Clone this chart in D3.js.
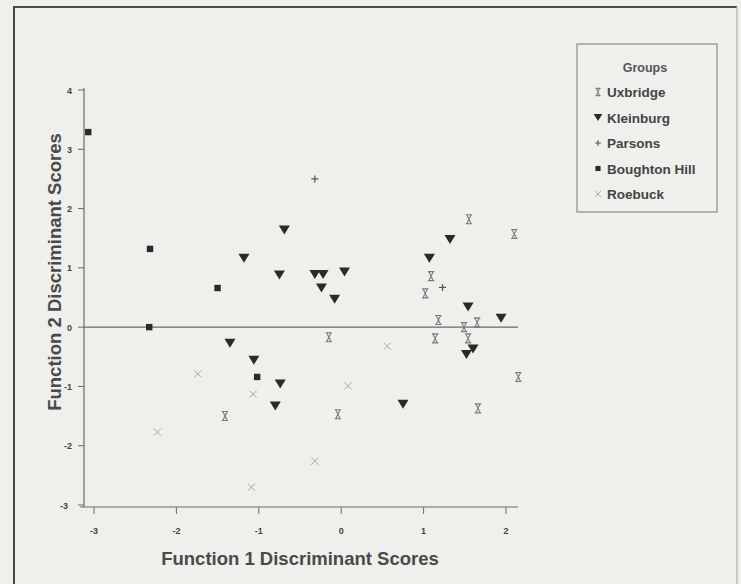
<!DOCTYPE html>
<html><head><meta charset="utf-8">
<script src="https://cdn.jsdelivr.net/npm/d3@7"></script>
<style>
html,body{margin:0;padding:0;background:#efefec;}
svg{display:block;font-family:"Liberation Sans",Arial,sans-serif;}
</style></head>
<body>
<svg id="chart" width="741" height="584"></svg>
<script>
const groups = ["Uxbridge", "Kleinburg", "Parsons", "Boughton Hill", "Roebuck"];
const xTicks = [-3, -2, -1, 0, 1, 2];
const yTicks = [4, 3, 2, 1, 0, -1, -2, -3];
const uxbridge = [[-0.15,-0.17],[-0.04,-1.47],[-1.41,-1.50],[1.14,-0.19],[1.18,0.12],[1.49,0.0],[1.54,-0.19],[1.65,0.08],[1.66,-1.37],[1.55,1.82],[2.10,1.57],[1.09,0.86],[1.02,0.57],[2.15,-0.84]];
const kleinburg = [[-0.69,1.64],[-1.18,1.16],[-0.75,0.88],[-0.32,0.89],[-0.22,0.89],[0.04,0.93],[-0.24,0.66],[-0.08,0.47],[-1.35,-0.27],[-1.06,-0.56],[-0.74,-0.96],[-0.80,-1.33],[0.75,-1.30],[1.52,-0.46],[1.60,-0.37],[1.32,1.48],[1.07,1.16],[1.54,0.34],[1.94,0.15]];
const parsons = [[1.23,0.67],[-0.32,2.50]];
const boughton = [[-3.07,3.29],[-2.32,1.32],[-1.50,0.66],[-2.33,0.0],[-1.02,-0.84]];
const roebuck = [[-1.74,-0.79],[-1.07,-1.13],[-2.23,-1.77],[-1.09,-2.70],[0.56,-0.32],[0.08,-0.99],[-0.32,-2.26]];

const svg = d3.select("#chart");
const x = d3.scaleLinear().domain([-3, 2]).range([94, 506]);
const y = d3.scaleLinear().domain([-3, 4]).range([505, 90]);
const axisColor = "#6a6a6a";

// frame
svg.append("path").attr("d","M14,600 L14,7 L737,7").attr("fill","none").attr("stroke","#4a4a4a").attr("stroke-width",2);
svg.append("line").attr("x1",737).attr("x2",737).attr("y1",7).attr("y2",600).attr("stroke","#bbb").attr("stroke-width",1.5);

// y axis
const yAxisX = 84;
svg.append("line").attr("x1",yAxisX).attr("x2",yAxisX).attr("y1",88).attr("y2",507).attr("stroke",axisColor).attr("stroke-width",1.2);
const yg = svg.append("g");
yTicks.forEach(t=>{
  yg.append("line").attr("x1",yAxisX-6).attr("x2",yAxisX).attr("y1",y(t)).attr("y2",y(t)).attr("stroke",axisColor).attr("stroke-width",1);
  yg.append("text").attr("x",yAxisX-12 - (t===-3?4:0)).attr("y",y(t)+3.5).attr("text-anchor","end")
    .attr("font-size",9).attr("font-weight","bold").attr("fill","#444").text(t);
});
// x axis
const xAxisY = 507;
svg.append("line").attr("x1",80).attr("x2",518).attr("y1",xAxisY).attr("y2",xAxisY).attr("stroke",axisColor).attr("stroke-width",1.2);
xTicks.forEach(t=>{
  svg.append("line").attr("x1",x(t)).attr("x2",x(t)).attr("y1",xAxisY).attr("y2",xAxisY+7).attr("stroke",axisColor).attr("stroke-width",1);
  svg.append("text").attr("x",x(t)).attr("y",534).attr("text-anchor","middle")
    .attr("font-size",9).attr("font-weight","bold").attr("fill","#444").text(t);
});
// zero line
svg.append("line").attr("x1",yAxisX).attr("x2",518).attr("y1",y(0)).attr("y2",y(0)).attr("stroke",axisColor).attr("stroke-width",1.2);

// axis titles
svg.append("text").attr("x",300).attr("y",565).attr("text-anchor","middle").attr("font-size",18.5).attr("font-weight","bold").attr("fill","#4a4a4a").text("Function 1 Discriminant Scores");
svg.append("text").attr("transform","translate(61,272) rotate(-90)").attr("text-anchor","middle").attr("font-size",18.5).attr("font-weight","bold").attr("fill","#4a4a4a").text("Function 2 Discriminant Scores");

// symbols
function hourglass(g, cx, cy, s){
  const w=3.2*s, h=4.5*s;
  g.append("path").attr("d",`M${cx-w},${cy-h}L${cx+w},${cy-h}M${cx-w},${cy+h}L${cx+w},${cy+h}M${cx-w+1},${cy-h}L${cx+w-1},${cy+h}M${cx+w-1},${cy-h}L${cx-w+1},${cy+h}`)
    .attr("fill","none").attr("stroke","#7a7a7a").attr("stroke-width",1.1);
}
function tri(g,cx,cy,s){
  const w=5.5*s,h=4.5*s;
  g.append("path").attr("d",`M${cx-w},${cy-h}L${cx+w},${cy-h}L${cx},${cy+h}Z`).attr("fill","#2a2a2a");
}
function plus(g,cx,cy,s){
  g.append("path").attr("d",`M${cx-3.5*s},${cy}L${cx+3.5*s},${cy}M${cx},${cy-3.5*s}L${cx},${cy+3.5*s}`).attr("stroke","#555").attr("stroke-width",1.2);
}
function square(g,cx,cy,s){
  const r=3.2*s;
  g.append("rect").attr("x",cx-r).attr("y",cy-r).attr("width",2*r).attr("height",2*r).attr("fill","#2a2a2a");
}
function cross(g,cx,cy,s){
  const r=3.6*s;
  g.append("path").attr("d",`M${cx-r},${cy-r}L${cx+r},${cy+r}M${cx+r},${cy-r}L${cx-r},${cy+r}`).attr("stroke","#a8a8a8").attr("stroke-width",1);
}
const series = [
  {name:"Uxbridge", data:uxbridge, fn:hourglass},
  {name:"Kleinburg", data:kleinburg, fn:tri},
  {name:"Parsons", data:parsons, fn:plus},
  {name:"Boughton Hill", data:boughton, fn:square},
  {name:"Roebuck", data:roebuck, fn:cross}
];
const pg = svg.append("g");
series.forEach(s=>{
  const g = pg.append("g").attr("class", s.name);
  s.data.forEach(d=> s.fn(g, x(d[0]), y(d[1]), 1));
});

// legend
const lg = svg.append("g");
lg.append("rect").attr("x",577).attr("y",44).attr("width",140).attr("height",168).attr("fill","none").attr("stroke","#8a8a8a").attr("stroke-width",1.2);
lg.append("text").attr("x",645).attr("y",72).attr("text-anchor","middle").attr("font-size",12.5).attr("font-weight","bold").attr("fill","#555").text("Groups");
series.forEach((s,i)=>{
  const cy = 92 + i*25.5;
  s.fn(lg, 598, cy, 0.8);
  lg.append("text").attr("x",607).attr("y",cy+5).attr("font-size",13.5).attr("font-weight","bold").attr("fill","#444").text(s.name);
});
</script>
</body></html>
